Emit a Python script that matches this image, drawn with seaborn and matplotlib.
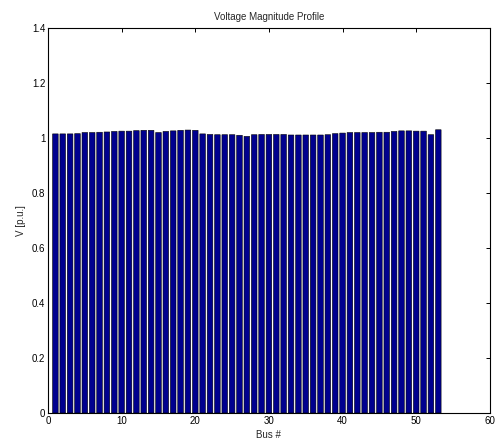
import numpy as np
import pandas as pd
import matplotlib
matplotlib.use("Agg")
import matplotlib.pyplot as plt
import seaborn as sns

# Per-bus voltage magnitudes (p.u.)
bus = list(range(1, 54))
voltage = [
    1.015, 1.015, 1.015, 1.016, 1.020, 1.020, 1.021, 1.022, 1.024, 1.025,
    1.025, 1.027, 1.028, 1.028, 1.020, 1.024, 1.026, 1.028, 1.029, 1.028,
    1.015, 1.013, 1.012, 1.012, 1.012, 1.010, 1.006, 1.012, 1.013, 1.013,
    1.013, 1.013, 1.011, 1.011, 1.011, 1.011, 1.011, 1.012, 1.016, 1.018,
    1.020, 1.020, 1.020, 1.020, 1.021, 1.021, 1.024, 1.026, 1.026, 1.025,
    1.025, 1.012, 1.030,
]
x_ticks = [0, 10, 20, 30, 40, 50, 60]
y_ticks = [0, 0.2, 0.4, 0.6, 0.8, 1.0, 1.2, 1.4]
y_tick_labels = ["0", "0.2", "0.4", "0.6", "0.8", "1", "1.2", "1.4"]

df = pd.DataFrame({"Bus": bus, "V": voltage})

sns.set_style("white")
plt.rcParams["font.family"] = ["Liberation Sans", "DejaVu Sans"]
plt.rcParams["font.size"] = 7

fig = plt.figure(figsize=(4.97, 4.42), dpi=100)
ax = fig.add_axes([0.0966, 0.0656, 0.889, 0.871])

sns.barplot(data=df, x="Bus", y="V", native_scale=True, width=0.76,
            color="#00008f", saturation=1, edgecolor="black", linewidth=0.4,
            ax=ax)
for patch in ax.patches:
    patch.set_snap(False)

ax.set_xlim(0, 60)
ax.set_ylim(0, 1.4)
ax.set_xticks(x_ticks)
ax.set_xticklabels([str(t) for t in x_ticks])
ax.set_yticks(y_ticks)
ax.set_yticklabels(y_tick_labels)
ax.tick_params(direction="in", length=3, width=0.7, top=True, right=True,
               labelsize=7, pad=2, colors="black")
for s in ax.spines.values():
    s.set_visible(True)
    s.set_color("black")
    s.set_linewidth(0.8)

ax.set_title("Voltage Magnitude Profile", fontsize=7, pad=6)
ax.set_xlabel("Bus #", fontsize=7, labelpad=3)
ax.set_ylabel("V [p.u.]", fontsize=7, labelpad=4)

fig.savefig("out.png", dpi=100, facecolor="white")
